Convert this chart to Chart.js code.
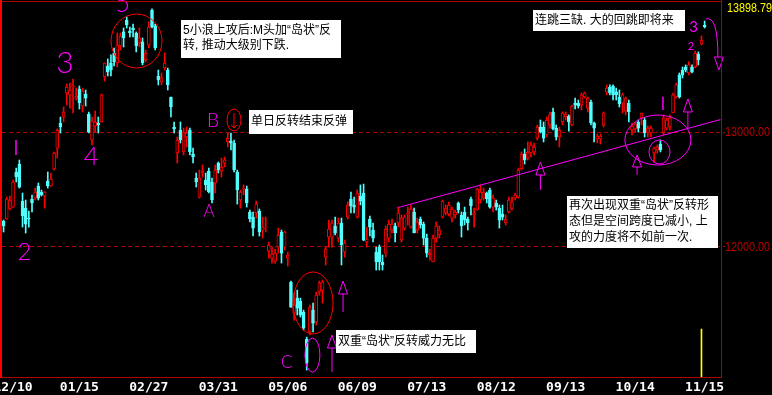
<!DOCTYPE html>
<html>
<head>
<meta charset="utf-8">
<script src="https://cdn.jsdelivr.net/npm/chart.js@4/dist/chart.umd.min.js"></script>
<style>
  html, body { margin: 0; padding: 0; background: #000; }
  canvas { display: block; }
</style>
</head>
<body>
<canvas id="kline" width="772" height="395"></canvas>
<script>
// daily candles (one value per bar)
const open = [
  12221, 12239, 12326, 12343, 12648, 12717, 12395, 12334, 12247, 12413,
  12421, 12526, 12474, 12439, 12569, 12526, 12674, 12856, 13074, 13126,
  13335, 13318, 13387, 13291, 13370, 13222, 13326, 13152, 12926, 13048,
  13074, 13083, 13474, 13570, 13596, 13683,
  13596, 13744, 13866, 13970, 13874, 13900, 13857, 13770, 13779, 13622,
  13752, 14057, 13918, 13483, 13431, 13552, 13535, 13300, 13039, 12813,
  13013, 12822, 12952, 13013, 12804, 12595, 12430, 12639, 12578, 12656,
  12561, 12552, 12726, 12656, 12726, 12909, 12917, 12900, 12648, 12404,
  12500, 12500, 12300, 12256, 12291, 12308, 12143, 12152, 11960, 11899,
  11873, 11995, 12126, 11995, 11899,
  11691, 11421, 11551, 11525, 11430, 11195, 11256, 11447, 11343, 11604, 11621,
  11908, 12082, 12082, 12178, 12073, 12204, 11952, 12256, 12413, 12361,
  12256, 12439, 12465, 12039, 12239, 12143, 11952, 11995, 11865, 11943,
  12073, 12143, 12178, 12204, 12056, 12160, 12282, 12169, 12300, 12143,
  12239, 12195, 12073, 11926, 11865, 12073, 12100, 12256, 12291, 12282,
  12247, 12274, 12378, 12274, 12300, 12239, 12413, 12274, 12317, 12404, 12421,
  12465, 12491, 12343, 12378, 12334, 12282, 12204, 12300, 12334, 12421,
  12430, 12674, 12804, 12769, 12813, 12822, 12943, 13039, 13039, 12970,
  13057, 13170, 13030, 12952, 13083, 13126, 13135, 13057, 13248, 13248,
  13230, 13300, 13204, 13257, 13074, 12935, 12935, 13057, 13344, 13387,
  13396, 13344, 13300, 13248, 13178, 13248, 13013, 13022, 13083, 13118,
  13100, 12987, 12987, 12813, 12839, 12891, 12987, 13030, 13039, 13161,
  13300, 13492, 13535, 13561, 13509, 13561, 13561, 13674, 13761, 13926
];
const high = [
  12230, 12430, 12439, 12578, 12682, 12752, 12465, 12404, 12308, 12448,
  12508, 12552, 12491, 12478, 12648, 12639, 12822, 13022, 13126, 13213,
  13413, 13422, 13457, 13378, 13396, 13378, 13361, 13170, 13126, 13178,
  13126, 13326, 13596, 13631, 13666, 13726,
  13857, 13857, 13900, 13996, 13909, 13935, 13866, 13900, 13813, 13709,
  13953, 14066, 13935, 13535, 13509, 13683, 13552, 13300, 13083, 12952,
  13083, 13030, 13039, 13030, 12856, 12639, 12665, 12709, 12639, 12682,
  12595, 12709, 12735, 12769, 12778, 12987, 12987, 12926, 12665, 12491,
  12535, 12526, 12317, 12300, 12395, 12326, 12256, 12256, 12039, 11995,
  11978, 12160, 12143, 12134, 11952,
  11699, 11595, 11621, 11551, 11447, 11212, 11491, 11508, 11604, 11699, 11708,
  11995, 12230, 12230, 12256, 12247, 12247, 12056, 12387, 12474, 12430,
  12491, 12535, 12543, 12169, 12265, 12204, 11995, 12013, 11926, 12178,
  12230, 12239, 12204, 12343, 12274, 12274, 12343, 12361, 12334, 12247,
  12256, 12213, 12108, 11978, 12100, 12213, 12178, 12404, 12361, 12387,
  12343, 12317, 12387, 12300, 12343, 12256, 12430, 12334, 12508, 12535, 12508,
  12474, 12508, 12448, 12404, 12361, 12361, 12274, 12430, 12430, 12465,
  12682, 12822, 12848, 12909, 12909, 12900, 13057, 13100, 13083, 13126,
  13170, 13204, 13057, 13039, 13170, 13170, 13144, 13230, 13291, 13274,
  13335, 13344, 13300, 13274, 13083, 12978, 12978, 13170, 13405, 13405,
  13405, 13378, 13361, 13335, 13300, 13274, 13074, 13083, 13100, 13161,
  13118, 13048, 13048, 12865, 12883, 12926, 13144, 13118, 13144, 13335,
  13422, 13509, 13561, 13579, 13605, 13579, 13700, 13692, 13831, 13961
];
const low = [
  12126, 12235, 12317, 12340, 12561, 12508, 12169, 12117, 12169, 12300,
  12404, 12404, 12439, 12334, 12508, 12522, 12665, 12769, 12987, 13083,
  13231, 13204, 13161, 13274, 13196, 13170, 13222, 12987, 12883, 12996,
  12987, 13080, 13439, 13483, 13483, 13570,
  13561, 13709, 13735, 13900, 13822, 13822, 13692, 13735, 13579, 13605,
  13726, 13900, 13709, 13405, 13405, 13535, 13361, 13126, 12987, 12726,
  12900, 12796, 12865, 12796, 12726, 12517, 12421, 12604, 12491, 12465,
  12378, 12465, 12639, 12604, 12691, 12865, 12839, 12648, 12369, 12334,
  12448, 12343, 12213, 12091, 12247, 12091, 12073, 12126, 11899, 11856,
  11856, 11943, 11856, 11969, 11830,
  11470, 11360, 11404, 11386, 11273, 10925, 11230, 11256, 11317, 11577, 11508,
  11839, 11995, 11995, 12100, 12039, 11839, 11908, 12239, 12291, 12291,
  12247, 12361, 12050, 11995, 12091, 12039, 11795, 11795, 11795, 11908,
  12039, 12117, 12039, 12169, 12039, 12143, 12187, 12160, 12117, 12117,
  12160, 12013, 11908, 11882, 11865, 12039, 12073, 12247, 12274, 12265,
  12213, 12247, 12291, 12082, 12187, 12143, 12274, 12169, 12317, 12378, 12404,
  12378, 12334, 12300, 12317, 12160, 12230, 12187, 12291, 12317, 12404,
  12421, 12665, 12717, 12752, 12778, 12796, 12926, 12987, 12909, 12952,
  13030, 13013, 12926, 12865, 13057, 13100, 13004, 13048, 13196, 13204,
  13187, 13291, 13170, 13057, 12909, 12900, 12891, 13039, 13318, 13318,
  13274, 13274, 13213, 13161, 13144, 13083, 12970, 12996, 12996, 13057,
  12952, 12952, 12952, 12735, 12813, 12822, 12970, 13013, 13013, 13161,
  13291, 13291, 13465, 13518, 13492, 13509, 13552, 13579, 13752, 13900
];
const close = [
  12178, 12413, 12404, 12561, 12604, 12517, 12265, 12195, 12239, 12378,
  12474, 12421, 12448, 12474, 12526, 12587, 12813, 13013, 13039, 13170,
  13387, 13361, 13396, 13309, 13248, 13352, 13291, 12996, 13091, 13083,
  13057, 13318, 13596, 13518, 13535, 13605,
  13752, 13831, 13813, 13926, 13857, 13883, 13744, 13813, 13596, 13683,
  13909, 13909, 13726, 13448, 13466, 13596, 13405, 13213, 13022, 12926,
  12926, 12996, 12987, 12822, 12778, 12561, 12595, 12656, 12535, 12474,
  12404, 12665, 12665, 12691, 12752, 12943, 12900, 12665, 12491, 12474,
  12508, 12378, 12239, 12160, 12369, 12126, 12169, 12160, 12013, 11934,
  11943, 12100, 11943, 12126, 11926,
  11473, 11491, 11464, 11404, 11290, 10986, 11473, 11334, 11577, 11682, 11691,
  11978, 12152, 12204, 12117, 12204, 12013, 12030, 12361, 12352, 12343,
  12465, 12395, 12056, 12065, 12169, 12073, 11865, 11865, 11839, 12152,
  12195, 12195, 12117, 12291, 12247, 12256, 12291, 12326, 12117, 12213,
  12187, 12073, 11943, 11943, 12073, 12178, 12143, 12395, 12334, 12361,
  12326, 12300, 12317, 12178, 12230, 12204, 12352, 12291, 12500, 12474, 12474,
  12413, 12343, 12421, 12343, 12230, 12256, 12239, 12404, 12387, 12448,
  12665, 12804, 12752, 12822, 12882, 12865, 13039, 12996, 12943, 13100,
  13144, 13022, 12952, 13013, 13161, 13152, 13083, 13222, 13230, 13222,
  13318, 13335, 13291, 13074, 13030, 12961, 12961, 13161, 13378, 13335,
  13318, 13318, 13239, 13318, 13291, 13170, 13048, 13065, 13030, 13161,
  12987, 13030, 13030, 12856, 12865, 12839, 13118, 13100, 13118, 13318,
  13405, 13300, 13492, 13535, 13579, 13518, 13683, 13622, 13796, 13909
];

const slotCount = 228;
const tickSlots = [3, 24, 46, 68, 90, 112, 134, 156, 178, 200, 222];
const tickDays = ['12/10', '01/15', '02/27', '03/31', '05/06', '06/09', '07/13', '08/12', '09/13', '10/14', '11/15'];
const guideLevels = [12000, 13000];
const lastPrice = '13898.79';
const yMin = 10865, yMax = 14135;

// hand drawn trend line under the summer lows
const trendLine = [{ x: 125, y: 12339 }, { x: 227, y: 13104 }];
// yellow marker under the last bars
const cursorSlot = 221, cursorTop = 11282;

const RED = '#ff0000', CYAN = '#50ffff', PINK = '#ff00ff', DARK = '#b00000';

const slots = [];
for (let i = 0; i < slotCount; i++) slots.push(i);
const up = close.map((c, i) => c >= open[i]);
const cursorData = slots.map(i => (i === cursorSlot ? [yMin, cursorTop] : null));

// notes in the picture, anchored on (bar slot, price)
const rings = [
  { s: 42.1, v: 13787, rx: 25.5, ry: 27, color: RED },
  { s: 72.97, v: 13100, rx: 7, ry: 11, color: RED },
  { s: 98.0, v: 11509, rx: 20, ry: 31, color: RED },
  { s: 97.8, v: 11056, rx: 7.5, ry: 17, color: PINK },
  { s: 207.2, v: 12926, rx: 33, ry: 25, color: PINK },
  { s: 207.7, v: 12822, rx: 10.5, ry: 12, color: PINK }
];
const upArrows = [
  { s: 107.5, v: 11700, head: 13, tail: 31 },
  { s: 104.0, v: 11230, head: 13, tail: 37 },
  { s: 170.0, v: 12735, head: 13, tail: 28 },
  { s: 200.6, v: 12796, head: 12, tail: 20 },
  { s: 216.7, v: 13283, head: 13, tail: 29 }
];
const waveMarks = [
  { t: '2', s: 6.6, v: 11952, size: 24 },
  { t: '3', s: 19.4, v: 13591, size: 30 },
  { t: '4', s: 27.8, v: 12778, size: 26 },
  { t: '5', s: 37.7, v: 14109, size: 25 },
  { t: 'B', s: 66.3, v: 13096, size: 19 },
  { t: 'A', s: 65.05, v: 12304, size: 17 },
  { t: 'C', s: 89.7, v: 10987, size: 17 },
  { t: '2', s: 217.7, v: 13739, size: 11 },
  { t: '3', s: 218.5, v: 13904, size: 15 }
];
const strokeMarks = [
  { s: 3.93, v1: 12926, v2: 12796 },
  { s: 208.8, v1: 13303, v2: 13187 }
];
const notes = [
  { x: 181, y: 20, w: 160, h: 38, lines: ['5小浪上攻后:M头加“岛状”反', '转, 推动大级别下跌.'], ly: [30.5, 46] },
  { x: 249, y: 110, w: 104, h: 24, lines: ['单日反转结束反弹'], ly: [122] },
  { x: 533, y: 10, w: 152, h: 21, lines: ['连跳三缺. 大的回跳即将来'], ly: [20.5] },
  { x: 567, y: 196, w: 151, h: 52, lines: ['再次出现双重“岛状”反转形', '态但是空间跨度已减小, 上', '攻的力度将不如前一次.'], ly: [205.5, 222, 238] },
  { x: 336, y: 330, w: 140, h: 23, lines: ['双重“岛状”反转威力无比'], ly: [341.5] }
];

function at(chart, s, v) {
  const xs = chart.scales.x, ys = chart.scales.y;
  const x0 = xs.getPixelForValue(0);
  const w = xs.getPixelForValue(1) - x0;
  return { x: x0 + s * w, y: ys.getPixelForValue(v) };
}

// narrow price text, squeezed to the width used by the terminal font
function priceText(ctx, text, x, y, width) {
  ctx.font = '13px "Liberation Sans"';
  const k = width / ctx.measureText(text).width;
  ctx.save();
  ctx.translate(x, y);
  ctx.scale(k, 1);
  ctx.fillText(text, 0, 0);
  ctx.restore();
}

const backdrop = {
  id: 'backdrop',
  beforeDraw(chart) {
    const ctx = chart.ctx;
    ctx.save();
    ctx.fillStyle = '#000';
    ctx.fillRect(0, 0, chart.width, chart.height);
    ctx.restore();
  },
  beforeDatasetsDraw(chart) {
    const ctx = chart.ctx, a = chart.chartArea;
    ctx.save();
    ctx.strokeStyle = DARK;
    ctx.lineWidth = 1;
    ctx.setLineDash([4, 3]);
    guideLevels.forEach(v => {
      const y = Math.round(chart.scales.y.getPixelForValue(v)) + 0.5;
      ctx.beginPath();
      ctx.moveTo(a.left, y);
      ctx.lineTo(a.right + 3, y);
      ctx.stroke();
    });
    ctx.restore();
  },
  afterDatasetsDraw(chart) {
    const ctx = chart.ctx;
    ctx.save();
    ctx.lineWidth = 1;

    rings.forEach(r => {
      const p = at(chart, r.s, r.v);
      ctx.strokeStyle = r.color;
      ctx.beginPath();
      ctx.ellipse(p.x, p.y, r.rx, r.ry, 0, 0, Math.PI * 2);
      ctx.stroke();
    });

    ctx.strokeStyle = PINK;
    upArrows.forEach(ar => {
      const p = at(chart, ar.s, ar.v);
      ctx.beginPath();
      ctx.moveTo(p.x, p.y);
      ctx.lineTo(p.x - 4.5, p.y + ar.head);
      ctx.lineTo(p.x + 4.5, p.y + ar.head);
      ctx.closePath();
      ctx.moveTo(p.x, p.y + ar.head);
      ctx.lineTo(p.x, p.y + ar.tail);
      ctx.stroke();
    });

    // curved warning arrow after the last bar
    const q = at(chart, 222.4, 13978);
    ctx.beginPath();
    ctx.moveTo(q.x, q.y);
    ctx.quadraticCurveTo(q.x + 12, q.y - 4, q.x + 12, q.y + 38);
    ctx.moveTo(q.x + 8.5, q.y + 38);
    ctx.lineTo(q.x + 17.5, q.y + 38);
    ctx.lineTo(q.x + 13, q.y + 51);
    ctx.closePath();
    ctx.stroke();

    ctx.lineWidth = 1.5;
    strokeMarks.forEach(m => {
      const a = at(chart, m.s, m.v1), b = at(chart, m.s, m.v2);
      ctx.beginPath();
      ctx.moveTo(a.x, a.y);
      ctx.lineTo(a.x, b.y);
      ctx.stroke();
    });
    ctx.lineWidth = 1;

    ctx.fillStyle = PINK;
    ctx.textAlign = 'center';
    ctx.textBaseline = 'middle';
    waveMarks.forEach(m => {
      const p = at(chart, m.s, m.v);
      ctx.font = (m.size < 16 ? '400 ' : '300 ') + m.size + 'px "Lato", "Noto Sans"';
      ctx.fillText(m.t, p.x, p.y);
    });

    // small red down arrow inside the single-day reversal ring
    const c = at(chart, 72.97, 13100);
    ctx.strokeStyle = RED;
    ctx.beginPath();
    ctx.moveTo(c.x, c.y - 7);
    ctx.lineTo(c.x, c.y + 8);
    ctx.moveTo(c.x - 3, c.y + 5);
    ctx.lineTo(c.x, c.y + 8);
    ctx.lineTo(c.x + 3, c.y + 5);
    ctx.stroke();

    ctx.textAlign = 'left';
    ctx.font = '12px "Liberation Sans", "Noto Sans CJK SC"';
    notes.forEach(n => {
      ctx.fillStyle = '#fff';
      ctx.fillRect(n.x, n.y, n.w, n.h);
      ctx.fillStyle = '#000';
      n.lines.forEach((t, i) => ctx.fillText(t, n.x + 2, n.ly[i]));
    });
    ctx.restore();
  },
  afterDraw(chart) {
    const ctx = chart.ctx, a = chart.chartArea;
    const xs = chart.scales.x, ys = chart.scales.y;
    ctx.save();
    ctx.fillStyle = DARK;
    ctx.fillRect(0, a.top, a.right, 1);
    ctx.fillRect(a.right - 1, 0, 1, a.bottom + 1);
    ctx.fillRect(0, a.bottom, a.right, 1);

    // price labels on the right
    ctx.textBaseline = 'middle';
    ctx.textAlign = 'left';
    ctx.fillStyle = '#c00000';
    guideLevels.forEach(v => priceText(ctx, v.toFixed(2), a.right + 3, ys.getPixelForValue(v) + 1, 45));
    ctx.fillStyle = '#ffff00';
    priceText(ctx, lastPrice, a.right + 5, 8, 45);

    // date labels under the bars
    ctx.fillStyle = '#ffffff';
    ctx.textAlign = 'center';
    ctx.font = 'bold 13px "DejaVu Sans Mono"';
    tickSlots.forEach((s, i) => ctx.fillText(tickDays[i], xs.getPixelForValue(s), 388));

    ctx.fillStyle = RED;
    ctx.fillRect(0, 0, 2, a.bottom + 1);
    ctx.restore();
  }
};

new Chart(document.getElementById('kline'), {
  type: 'bar',
  data: {
    labels: slots,
    datasets: [
      {
        type: 'line',
        label: 'trend',
        data: trendLine,
        borderColor: PINK,
        borderWidth: 1,
        pointRadius: 0,
        order: 0
      },
      {
        label: 'body',
        data: open.map((o, i) => [o, close[i]]),
        backgroundColor: up.map(u => (u ? '#000' : CYAN)),
        borderColor: up.map(u => (u ? RED : CYAN)),
        borderWidth: 1,
        borderSkipped: false,
        barThickness: 3,
        grouped: false,
        order: 1
      },
      {
        label: 'wick',
        data: low.map((l, i) => [l, high[i]]),
        backgroundColor: up.map(u => (u ? RED : CYAN)),
        barThickness: 1,
        grouped: false,
        order: 2
      },
      {
        label: 'cursor',
        data: cursorData,
        backgroundColor: '#ffff00',
        barThickness: 1,
        grouped: false,
        order: 3
      }
    ]
  },
  options: {
    responsive: false,
    animation: false,
    devicePixelRatio: 1,
    layout: { padding: { left: 2, top: 1, right: 0, bottom: 0 } },
    plugins: { legend: { display: false }, tooltip: { enabled: false } },
    scales: {
      x: {
        type: 'category',
        offset: true,
        grid: { display: false, drawTicks: false },
        border: { display: false },
        ticks: { display: false },
        afterFit: s => { s.height = 18; }
      },
      y: {
        position: 'right',
        min: yMin,
        max: yMax,
        grid: { display: false, drawTicks: false },
        border: { display: false },
        ticks: { display: false },
        afterFit: s => { s.width = 50; }
      }
    }
  },
  plugins: [backdrop]
});
</script>
</body>
</html>
